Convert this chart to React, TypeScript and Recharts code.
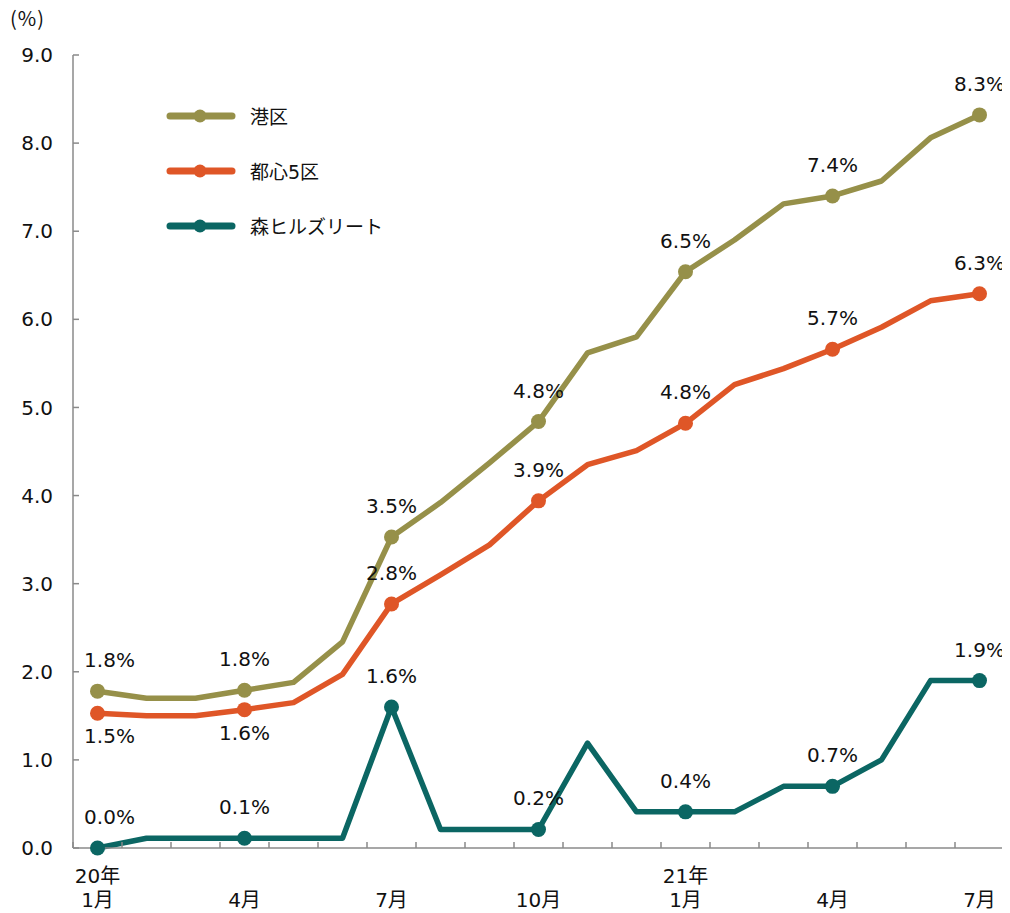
import { LineChart, Line, XAxis, YAxis, LabelList } from 'recharts'

const months = [
  '2020-01', '2020-02', '2020-03', '2020-04', '2020-05', '2020-06', '2020-07',
  '2020-08', '2020-09', '2020-10', '2020-11', '2020-12', '2021-01', '2021-02',
  '2021-03', '2021-04', '2021-05', '2021-06', '2021-07',
]
const yearLabels: Record<string, string> = { '2020-01': '20年', '2021-01': '21年' }
const monthLabels: Record<string, string> = {
  '2020-01': '1月', '2020-04': '4月', '2020-07': '7月', '2020-10': '10月',
  '2021-01': '1月', '2021-04': '4月', '2021-07': '7月',
}
// points that get a marker and a value label
const markedMonths = ['2020-01', '2020-04', '2020-07', '2020-10', '2021-01', '2021-04', '2021-07']

const minato = [1.78, 1.7, 1.7, 1.79, 1.88, 2.34, 3.53, 3.92, 4.37, 4.84, 5.62, 5.8, 6.54, 6.9, 7.31, 7.4, 7.57, 8.06, 8.32]
const central5 = [1.53, 1.5, 1.5, 1.57, 1.65, 1.97, 2.77, 3.1, 3.44, 3.94, 4.35, 4.51, 4.82, 5.26, 5.44, 5.66, 5.91, 6.21, 6.29]
const mhr = [0.0, 0.11, 0.11, 0.11, 0.11, 0.11, 1.6, 0.21, 0.21, 0.21, 1.19, 0.41, 0.41, 0.41, 0.7, 0.7, 1.0, 1.9, 1.9]

const yTicks = [0, 1, 2, 3, 4, 5, 6, 7, 8, 9]

const data = months.map((m, i) => ({
  month: m,
  minato: minato[i],
  central5: central5[i],
  mhr: mhr[i],
}))

const series = [
  { key: 'minato', name: '港区', color: '#969049', below: [] as string[] },
  { key: 'central5', name: '都心5区', color: '#df5627', below: ['2020-01', '2020-04'] },
  { key: 'mhr', name: '森ヒルズリート', color: '#0b6663', below: [] as string[] },
]

const FONT = "Verdana, 'DejaVu Sans', 'Noto Sans CJK JP', sans-serif"
const AXIS = '#8a8a8a'

// month label + inward tick marks on the band edges
const MonthTick = (props: any) => {
  const { x, y, payload, index, visibleTicksCount } = props
  const half = payload.offset ?? 0
  const yr = yearLabels[payload.value]
  const mo = monthLabels[payload.value]
  const last = index === visibleTicksCount - 1
  return (
    <g fontFamily={FONT} fontSize={20} fill="#111">
      <line x1={x - half} x2={x - half} y1={y} y2={y - 6} stroke={AXIS} strokeWidth={1.5} />
      {last && <line x1={x + half} x2={x + half} y1={y} y2={y - 6} stroke={AXIS} strokeWidth={1.5} />}
      {yr && (
        <text x={x} y={y} dy={35} textAnchor="middle">
          {yr}
        </text>
      )}
      {mo && (
        <text x={x} y={y} dy={59} textAnchor="middle">
          {mo}
        </text>
      )}
    </g>
  )
}

const makeDot = (color: string) => (props: any) => {
  const { cx, cy, index } = props
  if (!markedMonths.includes(months[index])) return <g key={index} />
  return <circle key={index} cx={cx} cy={cy} r={7.5} fill={color} />
}

const makeLabel = (below: string[]) => (props: any) => {
  const { x, y, value, index } = props
  const m = months[index]
  if (!markedMonths.includes(m)) return null
  const dy = below.includes(m) ? 30 : -24
  const dx = index === 0 ? 12 : 0
  return (
    <text x={x} y={y} dx={dx} dy={dy} textAnchor="middle" fontFamily={FONT} fontSize={20} fill="#111">
      {Number(value).toFixed(1)}%
    </text>
  )
}

const LegendBox = () => (
  <div style={{ position: 'absolute', left: 150, top: 80, fontFamily: FONT, fontSize: 19, color: '#111' }}>
    {series.map((s) => (
      <div key={s.key} style={{ display: 'flex', alignItems: 'center', height: 55 }}>
        <svg width={92} height={20}>
          <line x1={12} y1={10} x2={74} y2={10} stroke={s.color} strokeWidth={7} strokeLinecap="round" />
          <circle cx={42} cy={10} r={6.5} fill={s.color} />
        </svg>
        <span>{s.name}</span>
      </div>
    ))}
  </div>
)

export default function App() {
  return (
    <div style={{ position: 'relative', width: 1002, height: 905, fontFamily: FONT }}>
      <LineChart width={1002} height={905} data={data} margin={{ top: 47, right: 6, left: 5, bottom: 5 }}>
        <XAxis
          dataKey="month"
          scale="band"
          interval={0}
          height={60}
          axisLine={{ stroke: AXIS, strokeWidth: 1.5 }}
          tickLine={false}
          tickSize={0}
          tickMargin={0}
          tick={<MonthTick />}
        />
        <YAxis
          domain={[0, 9]}
          ticks={yTicks}
          width={60}
          tickFormatter={(v: number) => v.toFixed(1)}
          axisLine={{ stroke: AXIS, strokeWidth: 1.5 }}
          tickLine={{ stroke: AXIS, strokeWidth: 1.5 }}
          tickSize={-6}
          tickMargin={26}
          tick={{ fill: '#111', fontSize: 20, fontFamily: FONT }}
        />
        {series.map((s) => (
          <Line
            key={s.key}
            dataKey={s.key}
            name={s.name}
            stroke={s.color}
            strokeWidth={5.5}
            strokeLinejoin="round"
            dot={makeDot(s.color)}
            activeDot={false}
            isAnimationActive={false}
          >
            <LabelList dataKey={s.key} content={makeLabel(s.below)} />
          </Line>
        ))}
      </LineChart>
      <div style={{ position: 'absolute', left: 2, top: -5, fontSize: 20, letterSpacing: 1, color: '#111', fontFamily: "'Noto Sans CJK JP', sans-serif" }}>
        (%)
      </div>
      <LegendBox />
    </div>
  )
}
